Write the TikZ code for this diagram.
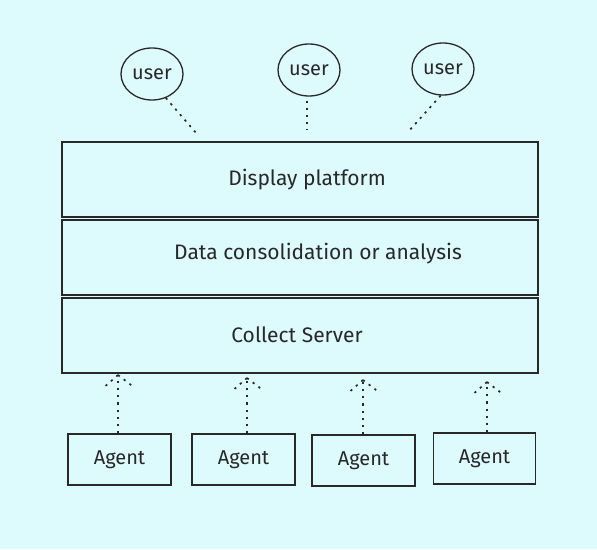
\documentclass[tikz,border=0pt]{standalone}
\usepackage{fontspec}
\setmainfont{Fira Sans}
\usetikzlibrary{shapes.geometric}
\definecolor{bg}{RGB}{221,250,253}
\definecolor{ink}{RGB}{40,40,40}
\begin{document}
\begin{tikzpicture}[x=1pt,y=-1pt,
  layer/.style={draw=ink,line width=1.3pt,minimum width=476pt,minimum height=75pt,inner sep=0pt},
  layertext/.style={font=\fontsize{21}{24}\selectfont,text=ink},
  agentbox/.style={draw=ink,line width=1.3pt,minimum width=103pt,minimum height=51pt,inner sep=0pt,font=\fontsize{20}{22}\selectfont,text=ink},
  userc/.style={draw=ink,line width=1.3pt,ellipse,minimum width=62pt,minimum height=52pt,inner sep=0pt,font=\fontsize{20}{22}\selectfont,text=ink},
  dots/.style={draw=ink,line width=1.7pt,dash pattern=on 2.2pt off 5pt,line cap=butt}]
\fill[bg] (0,0) rectangle (597,549);
\useasboundingbox (0,0) rectangle (597,549);
% layers
\node[layer] (disp) at (300,179.5) {};
\node[layertext] (dispt) at (307,180) {Display platform};
\node[layer] (data) at (300,257.5) {};
\node[layertext] (datat) at (318,254) {Data consolidation or analysis};
\node[layer] (coll) at (300,335.5) {};
\node[layertext] (collt) at (297,335) {Collect Server};
% users
\node[userc] (u1) at (152,74) {user};
\node[userc] (u2) at (309,70) {user};
\node[userc] (u3) at (443,69) {user};
\coordinate (d1) at (197,134);
\coordinate (d2) at (307,130);
\coordinate (d3) at (408,132);
\draw[dots] (u1.300) -- (d1);
\draw[dots] (u2.south) ++(-2,4) -- (d2);
\draw[dots] (u3.265) -- (d3);
% agents
\node[agentbox] (a1) at (119.5,459.5) {Agent};
\node[agentbox] (a2) at (243.5,459.5) {Agent};
\node[agentbox] (a3) at (363.5,460.5) {Agent};
\node[agentbox, minimum width=102pt] (a4) at (484.5,458.5) {Agent};
% arrows
\foreach \i/\x/\yt in {1/118/375, 2/247/378, 3/363/380, 4/487/382}{
  \coordinate (t\i) at (\x,\yt);
  \draw[dots] (a\i.north -| t\i) -- (t\i);
  \draw[dots] (t\i) -- ++(-16,14);
  \draw[dots] (t\i) -- ++(17,13);
}
\end{tikzpicture}
\end{document}
